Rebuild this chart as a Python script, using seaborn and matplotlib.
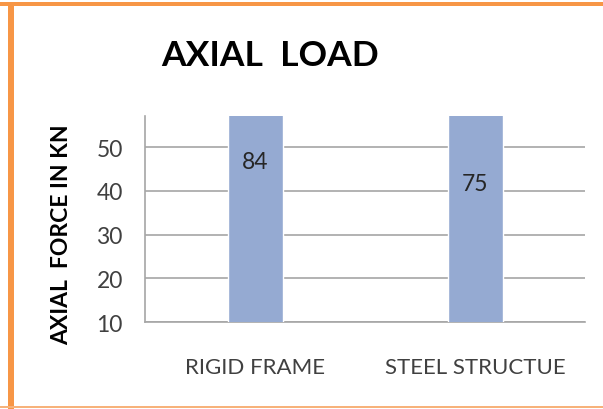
import matplotlib
matplotlib.use("Agg")
import matplotlib.pyplot as plt
import matplotlib.patches as mpatches
import seaborn as sns
import pandas as pd

# Data
categories = ["RIGID FRAME", "STEEL STRUCTUE"]
axial_force = [84, 75]
y_ticks = [10, 20, 30, 40, 50]

df = pd.DataFrame({"structure": categories, "force": axial_force})

sns.set_theme(style="white")
plt.rcParams["font.family"] = ["Lato", "DejaVu Sans"]

fig = plt.figure(figsize=(6.03, 4.10), dpi=100)
ax = fig.add_axes([145 / 603, 1 - 323 / 410, 440 / 603, 206 / 410])

sns.barplot(data=df, x="structure", y="force", color="#95AAD2",
            saturation=1, width=0.25, ax=ax, zorder=3)

ax.set_xlim(-0.5, 1.5)
ax.set_ylim(10, 57.1)
ax.set_yticks(y_ticks)
ax.yaxis.grid(True, color="#a6a6a6", linewidth=1.2, zorder=0)
ax.set_axisbelow(True)

for side in ("top", "right"):
    ax.spines[side].set_visible(False)
ax.spines["left"].set_color("#a6a6a6")
ax.spines["bottom"].set_color("#a6a6a6")
ax.spines["left"].set_linewidth(1.2)
ax.spines["bottom"].set_linewidth(1.2)

ax.tick_params(axis="y", length=0, pad=16, labelsize=16.5, labelcolor="#404040")
ax.tick_params(axis="x", length=0, pad=25, labelsize=16, labelcolor="#404040")
ax.set_xlabel("")
ax.set_ylabel("AXIAL  FORCE IN KN", fontsize=16.5, fontweight="bold",
              color="black", va="center")
ax.yaxis.set_label_coords(-0.1886, 0.43)

# value labels placed partway up each bar
for i, v in enumerate(axial_force):
    ax.text(i, v * 0.557, str(v), ha="center", va="center",
            fontsize=16.5, color="#262626", zorder=4)

fig.text(270 / 603, 1 - 56 / 410, "AXIAL  LOAD", ha="center", va="center",
         fontsize=25.5, fontweight="bold", color="black")

# orange frame on top, left and bottom
orange = "#F79646"
fig.add_artist(mpatches.Rectangle((0, 1 - 7 / 410), 1, 4 / 410,
                                  transform=fig.transFigure, color=orange, lw=0))
fig.add_artist(mpatches.Rectangle((8 / 603, 0), 6 / 603, 1 - 3 / 410,
                                  transform=fig.transFigure, color=orange, lw=0))
fig.add_artist(mpatches.Rectangle((0, 1 / 410), 1, 2 / 410,
                                  transform=fig.transFigure, color="#F7B27A", lw=0))

fig.savefig("out.png", dpi=100)
